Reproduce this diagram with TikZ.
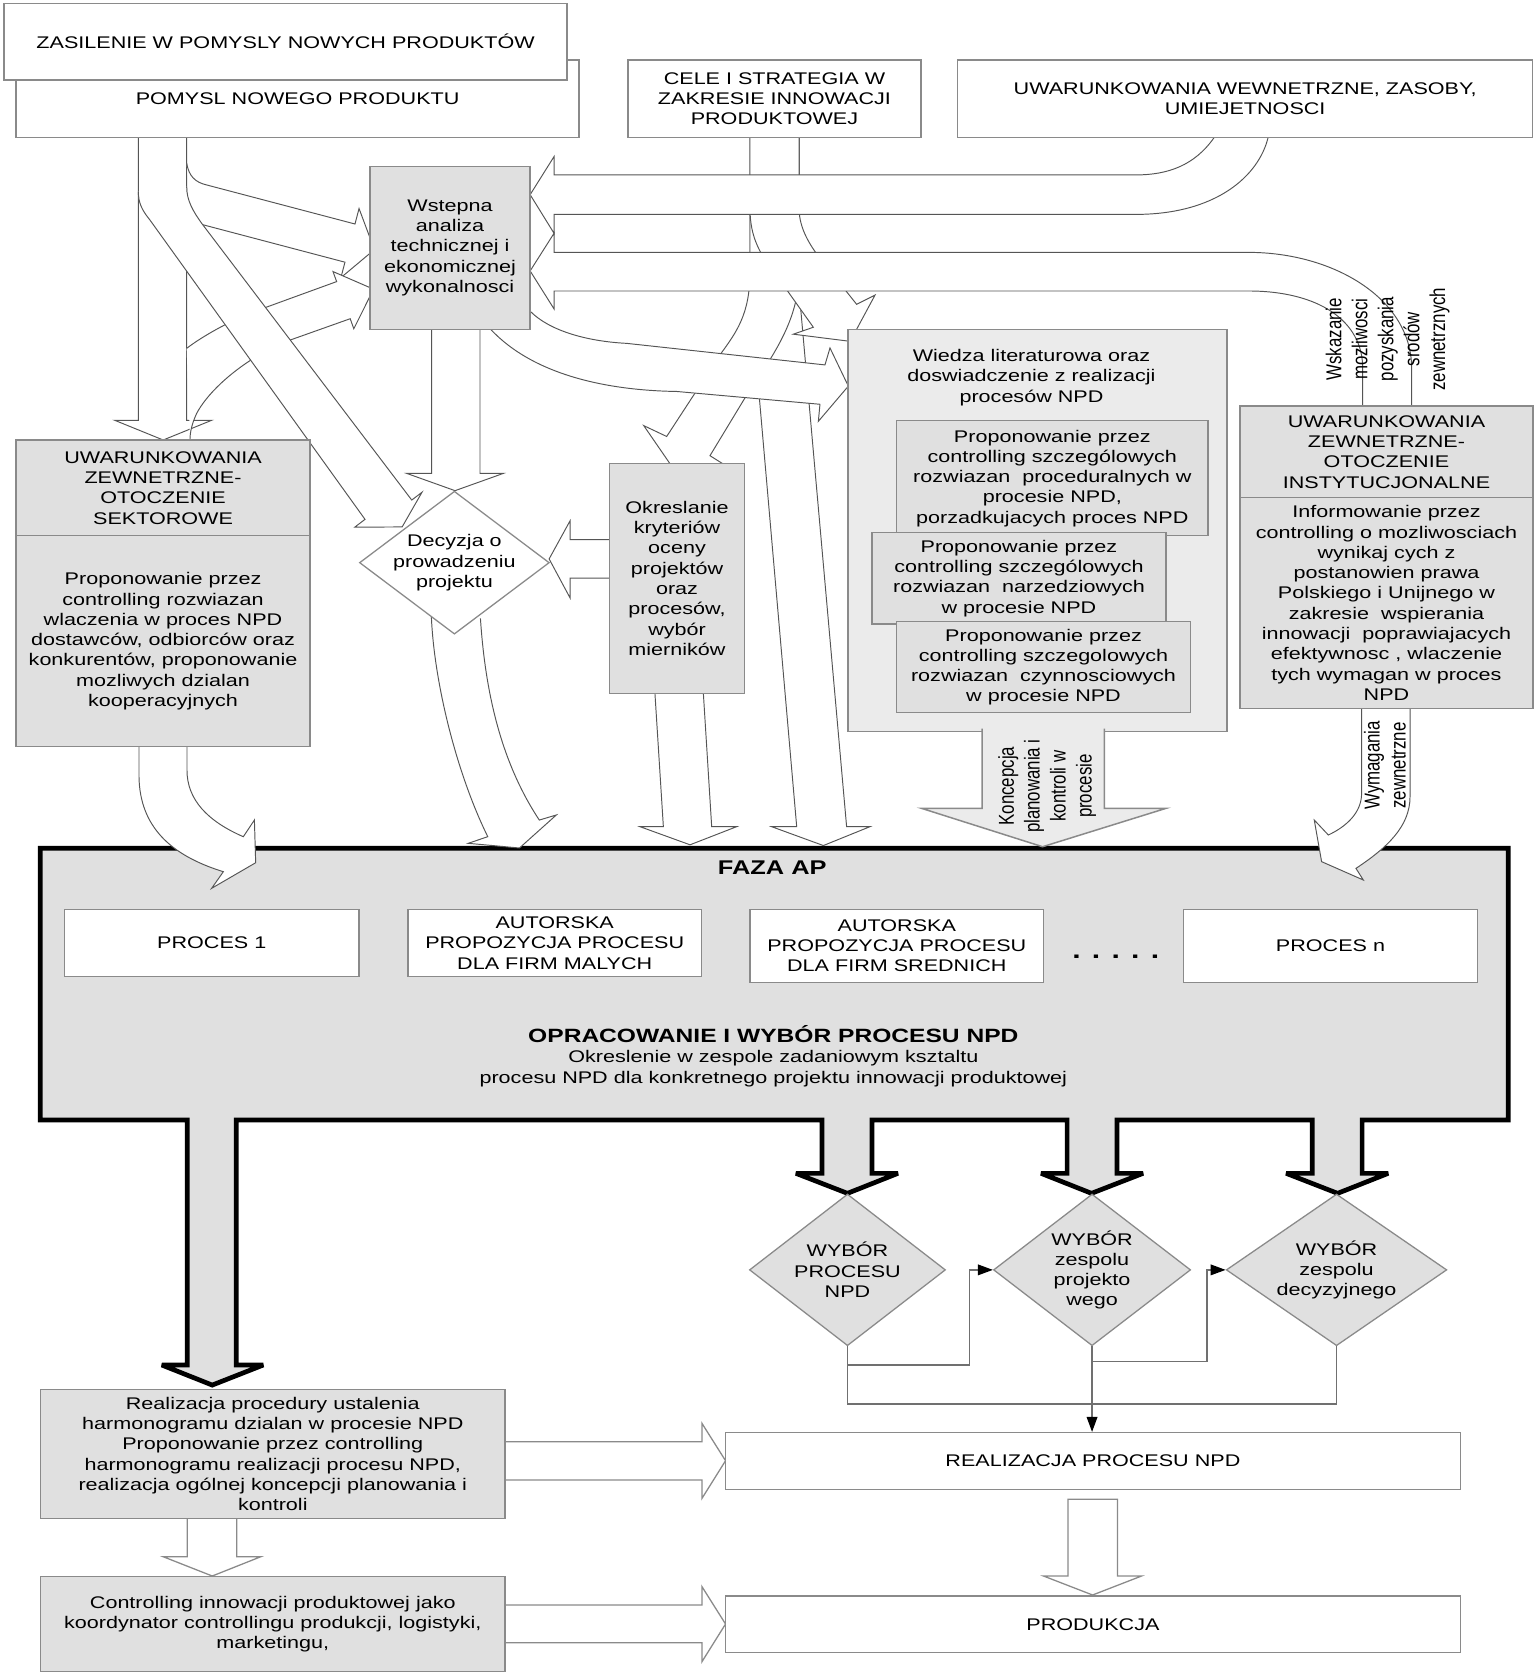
\documentclass[tikz,border=0pt]{standalone}
\usepackage{fontspec}
\setmainfont{Liberation Sans}[FakeStretch=1.28]
\newfontfamily\rotfont{Liberation Sans}
\usepackage{graphicx}
\usepackage{tikz}
\usetikzlibrary{calc}
\usetikzlibrary{arrows.meta}
\usetikzlibrary{shapes.geometric}
\definecolor{boxgray}{HTML}{E0E0E0}
\definecolor{lightbox}{HTML}{EBEBEB}
\definecolor{edgegray}{HTML}{8A8A8A}
\definecolor{arrowline}{HTML}{555555}
\definecolor{conngray}{HTML}{707070}
\tikzset{
	box/.style={draw=edgegray, line width=0.7pt, fill=boxgray, inner sep=0pt, align=center},
	whitebox/.style={box, fill=white},
	corners/.style n args={4}{minimum width={(#3-#1)*0.5pt}, minimum height={(#4-#2)*0.5pt}, at={({(#1+#3)/2},{(#2+#4)/2})}},
	diam/.style={diamond, draw=edgegray, line width=0.6pt, fill=boxgray, inner sep=0pt},
	hollow/.style={draw=arrowline, line width=0.45pt, fill=white, line join=miter},
	hollowlight/.style={draw=edgegray, line width=0.6pt, fill=white},
	conn/.style={draw=conngray, line width=0.6pt},
	flowtip/.style={-{Triangle[length=7pt,width=5pt,color=black]}}
}
\newcommand{\rottxt}[1]{\scalebox{1.28}[1]{\rotatebox{90}{\rotfont\fontsize{7.9}{9.5}\selectfont\begin{tabular}{@{}c@{}}#1\end{tabular}}}}

\begin{document}
\begin{tikzpicture}[x=0.5pt, y=-0.5pt, every node/.style={font=\fontsize{7.9}{9.5}\selectfont}]
	\useasboundingbox (0,0) rectangle (1440,1571.25);

	% faza AP with its outgoing arrows
	\filldraw[fill=boxgray, draw=black, line width=2.2pt, miter limit=4]
		(37.7,795.3) -- (1414,795.3) -- (1414,1050)
		-- (1277,1050) -- (1277,1100) -- (1301.4,1100) -- (1254,1118.75) -- (1205.8,1100) -- (1230.2,1100) -- (1230.2,1050)
		-- (1047.2,1050) -- (1047.2,1100) -- (1071.6,1100) -- (1023.3,1118.75) -- (976,1100) -- (1000.4,1100) -- (1000.4,1050)
		-- (817.4,1050) -- (817.4,1100) -- (841.8,1100) -- (794.5,1118.75) -- (746.2,1100) -- (770.6,1100) -- (770.6,1050)
		-- (221.5,1050) -- (221.5,1279.7) -- (246.8,1279.7) -- (199,1298.5) -- (151.7,1279.7) -- (175.6,1279.7) -- (175.6,1050)
		-- (37.7,1050) -- cycle;

	% block arrows from the idea
	\filldraw[hollow] (129.7,129) -- (129.7,394) -- (107.5,394) -- (153,412.5) -- (198.5,394) -- (175,394) -- (175,129);
	\filldraw[hollow] (175,153) .. controls (177,165) and (183,171) .. (193.8,173.4) -- (332.8,210) -- (336.6,195.5)
		-- (351,234) -- (319.6,260.3) -- (323.4,245.8) -- (180,208);
	\filldraw[hollow] (175,326.6) .. controls (190,315) and (220,298) .. (246.9,289) -- (315.6,264) -- (312.2,254.6)
		-- (350.2,271.1) -- (331.7,308.2) -- (328.3,298.8) -- (270.3,319.4)
		.. controls (235,333) and (198,362) .. (184.4,387.5) .. controls (180,397) and (178.1,405) .. (178.1,412.5);
	\filldraw[hollow] (129.7,179.7) .. controls (129.7,190) and (133,197) .. (140.6,206.3) -- (342.2,486.9) -- (332.6,494.2)
		-- (377,494) -- (395.6,461.5) -- (386,468.8) -- (189.1,209.4) .. controls (181,198) and (175,188) .. (175,175);

	% block arrows from the goals
	\filldraw[hollow] (703.1,129) -- (703.1,272) -- (746.9,775) -- (723.4,775) -- (771.9,792.7) -- (815.6,775)
		-- (793.7,775) -- (749.1,272) -- (749.1,129);
	\filldraw[hollow] (703.1,129) -- (703.1,255) .. controls (703.1,295) and (690,312) .. (675,332.6) -- (625,409.2)
		-- (603.5,399) -- (640,452) -- (684.2,438.9) -- (665.6,427.2)
		-- (700,370.4) .. controls (725,333) and (749.1,300) .. (749.1,255) -- (749.1,129);
	\filldraw[hollow] (703.1,129) -- (703.1,195) .. controls (703.1,215) and (708,228) .. (715,240) -- (762.5,306.8)
		-- (743.7,313.3) -- (797,320) -- (820.3,276.7) -- (803.1,285.3)
		-- (775,250) .. controls (760,232) and (749.1,215) .. (749.1,195) -- (749.1,129);

	% block arrows into the analysis
	\filldraw[hollow] (1138.2,129) .. controls (1120,155) and (1095,164) .. (1064.7,164) -- (519.4,164) -- (519.4,146.8)
		-- (497,182.5) -- (519.4,218.7) -- (519.4,201) -- (1064.7,201) .. controls (1140,201) and (1180,165) .. (1188.8,129);
	\filldraw[hollow] (1323.4,379.7) -- (1323.4,345) .. controls (1323.4,280) and (1250,236.6) .. (1170.4,236.6)
		-- (519.4,236.6) -- (519.4,218.7) -- (497,254) -- (519.4,289.6) -- (519.4,272.8)
		-- (1170.4,272.8) .. controls (1235,272.8) and (1277.5,300) .. (1277.5,345) -- (1277.5,379.7);
	\filldraw[hollow] (497.1,291.8) .. controls (515,310) and (550,320) .. (587.5,321.9) -- (773.4,342.1) -- (778.1,326.2)
		-- (795.3,362) -- (767.2,395) -- (768.7,379) -- (634.4,367) .. controls (570,366) and (500,352) .. (459.4,308.1);
	\filldraw[hollow] (404.7,308.7) -- (404.7,443.8) -- (381.3,443.8) -- (426.6,460) -- (471.9,443.8) -- (450,443.8) -- (450,308.7);

	% block arrows to the decision and to faza AP
	\filldraw[hollow] (571.3,505.9) -- (534.4,505.9) -- (534.4,488.3) -- (514.8,524) -- (534.4,560.5) -- (534.4,542) -- (571.3,542);
	\filldraw[hollow] (614,650) -- (621.9,775) -- (600,775) -- (646.9,792) -- (690.6,775) -- (667.2,775) -- (659.4,650);
	\filldraw[hollow] (404.4,578) .. controls (407,640) and (428,725) .. (457.3,784.4) -- (438.9,790.6) -- (487,795)
		-- (521.6,764) -- (505.6,768.8) .. controls (470,715) and (455,650) .. (450.4,579.7);
	\filldraw[hollow] (130.3,700) -- (130.3,728) .. controls (131,775) and (160,802) .. (209.4,817.2) -- (198.4,832.8)
		-- (239.7,808.8) -- (238.5,768.75) -- (228.1,784.4) .. controls (195,770) and (175.3,750) .. (175.3,722) -- (175.3,700);
	\filldraw[hollow] (1276.5,664) -- (1276.5,743.75) .. controls (1276.5,762) and (1262,775) .. (1245.3,782.8) -- (1232.1,768.75)
		-- (1239,807.8) -- (1278.1,825) -- (1271.2,814.1) .. controls (1300,795) and (1321.9,775) .. (1321.9,746.9) -- (1321.9,664);

	% bottom block arrows
	\filldraw[hollowlight] (473.4,1351.6) -- (658.1,1351.6) -- (658.1,1334.4) -- (680.2,1369.4) -- (658.1,1404.7) -- (658.1,1387.5) -- (473.4,1387.5);
	\filldraw[hollowlight] (473.4,1504.7) -- (658.1,1504.7) -- (658.1,1487.5) -- (680.2,1522.5) -- (658.1,1557.8) -- (658.1,1540) -- (473.4,1540);
	\filldraw[hollowlight] (175.6,1423.5) -- (175.6,1459.4) -- (153,1459.4) -- (199,1477.5) -- (244.5,1459.4) -- (222,1459.4) -- (222,1423.5);
	\filldraw[hollowlight] (1001.3,1405.6) -- (1001.3,1477.5) -- (978.3,1477.5) -- (1024.3,1495.3) -- (1070.2,1477.5) -- (1047.7,1477.5) -- (1047.7,1405.6) -- cycle;

	% top row
	\node[whitebox, corners={15.2}{56.25}{542.8}{129}] (pomysl) {POMYSL NOWEGO PRODUKTU};
	\node[whitebox, corners={3.7}{3.1}{531.7}{75}] (zasil) {ZASILENIE W POMYSLY NOWYCH PRODUKTÓW};
	\node[whitebox, corners={588.7}{56.25}{863.4}{129}] (cele) {CELE I STRATEGIA W\\ZAKRESIE INNOWACJI\\PRODUKTOWEJ};
	\node[whitebox, corners={897.8}{56.25}{1436.9}{129}] (uwew) {UWARUNKOWANIA WEWNETRZNE, ZASOBY,\\UMIEJETNOSCI};

	% middle boxes
	\node[box, corners={347}{155.9}{496.8}{308.75}] (wstepna) {Wstepna\\analiza\\technicznej i\\ekonomicznej\\wykonalnosci};
	\node[box, corners={15.2}{412.5}{290.5}{502.2}] (sekttop) {UWARUNKOWANIA\\ZEWNETRZNE-\\OTOCZENIE\\SEKTOROWE};
	\node[box, corners={15.2}{502.2}{290.5}{700}] (sektbot) {Proponowanie przez\\controlling rozwiazan\\wlaczenia w proces NPD\\dostawców, odbiorców oraz\\konkurentów, proponowanie\\mozliwych dzialan\\kooperacyjnych};
	\node[diam, fill=white, minimum width=89pt, minimum height=67pt,
		label={[name=decyzjatxt, align=center]center:Decyzja o\\prowadzeniu\\projektu}] (decyzja) at (426,527.5) {};
	\node[box, corners={571.3}{434.4}{698.1}{650}] (okresl) {Okreslanie\\kryteriów\\oceny\\projektów\\oraz\\procesów,\\wybór\\mierników};

	% knowledge box and its arrow
	\node[box, fill=lightbox, corners={794.9}{308.75}{1150.2}{686}] (wiedza) {};
	\filldraw[fill=lightbox, draw=edgegray, line width=0.7pt] (920.8,683) -- (920.8,757.8) -- (863.9,757.8) -- (977.4,793.8)
		-- (1093.2,757.8) -- (1035.3,757.8) -- (1035.3,683);
	\node[align=center] (wiedzatxt) at (967,354) {Wiedza literaturowa oraz\\doswiadczenie z realizacji\\procesów NPD};
	\node[box, corners={840.4}{394.4}{1132.7}{502.2}] (prop1) {Proponowanie przez\\controlling szczególowych\\rozwiazan\ \ proceduralnych w\\procesie NPD,\\porzadkujacych proces NPD};
	\node[box, corners={817.4}{499.4}{1093.2}{585}] (prop2) {Proponowanie przez\\controlling szczególowych\\rozwiazan\ \ narzedziowych\\w procesie NPD};
	\node[box, corners={840.4}{582.8}{1116.2}{668.1}] (prop3) {Proponowanie przez\\controlling szczegolowych\\rozwiazan\ \ czynnosciowych\\w procesie NPD};
	\node[inner sep=0pt] (konc) at (982,737) {\rottxt{Koncepcja\\planowania i\\kontroli w\\procesie}};

	% institutional surroundings
	\node[box, corners={1162.6}{380.6}{1437}{466.6}] (insttop) {UWARUNKOWANIA\\ZEWNETRZNE-\\OTOCZENIE\\INSTYTUCJONALNE};
	\node[box, corners={1162.6}{466.6}{1437}{664}] (instbot) {Informowanie przez\\controlling o mozliwosciach\\wynikaj cych z\\postanowien prawa\\Polskiego i Unijnego w\\zakresie\ \ wspierania\\innowacji\ \ poprawiajacych\\efektywnosc , wlaczenie\\tych wymagan w proces\\NPD};
	\node[inner sep=0pt] (wskaz) at (1301.4,318) {\rottxt{Wskazanie\\mozliwosci\\pozyskania\\srodów\\zewnetrznych}};
	\node[inner sep=0pt] (wymag) at (1300.7,717.5) {\rottxt{Wymagania\\zewnetrzne}};

	% inside faza AP
	\node[font=\fontsize{9.3}{11}\selectfont\bfseries] (fazatxt) at (724,813) {FAZA AP};
	\node[whitebox, corners={60.7}{852.5}{336.4}{915.6}] (proc1) {PROCES 1};
	\node[whitebox, corners={382.4}{852.5}{657.7}{915.6}] (procm) {AUTORSKA\\PROPOZYCJA PROCESU\\DLA FIRM MALYCH};
	\node[whitebox, corners={703.2}{852.5}{978.3}{921}] (procs) {AUTORSKA\\PROPOZYCJA PROCESU\\DLA FIRM SREDNICH};
	\node[whitebox, corners={1109.7}{852.5}{1385}{921}] (procn) {PROCES n};
	\node[anchor=base, font=\fontsize{11}{11}\selectfont\bfseries] (dots) at (1046,899) {.\hskip5.3pt.\hskip5.3pt.\hskip5.3pt.\hskip5.3pt.};
	\node[align=center] (opis) at (725,990) {{\fontsize{9}{11}\selectfont\bfseries OPRACOWANIE I WYBÓR PROCESU NPD}\\Okreslenie w zespole zadaniowym ksztaltu\\procesu NPD dla konkretnego projektu innowacji produktowej};

	% choices
	\node[diam, minimum width=91.9pt, minimum height=71.1pt,
		label={[name=wyb1txt, align=center]center:WYBÓR\\PROCESU\\NPD}] (wyb1) at (794.5,1190.5) {};
	\node[diam, minimum width=92.4pt, minimum height=71.1pt,
		label={[name=wyb2txt, align=center]center:WYBÓR\\zespolu\\projekto\\wego}] (wyb2) at (1023.8,1190.5) {};
	\node[diam, minimum width=103.4pt, minimum height=71.1pt,
		label={[name=wyb3txt, align=center]center:WYBÓR\\zespolu\\decyzyjnego}] (wyb3) at (1253,1190.5) {};

	% bottom boxes
	\node[whitebox, corners={680.2}{1343.1}{1369}{1396.3}] (real) {REALIZACJA PROCESU NPD};
	\node[whitebox, corners={680.2}{1496}{1369}{1549.4}] (prod) {PRODUKCJA};
	\node[box, corners={38.1}{1302.5}{473.4}{1423.5}] (realproc) {Realizacja procedury ustalenia\\harmonogramu dzialan w procesie NPD\\Proponowanie przez controlling\\harmonogramu realizacji procesu NPD,\\realizacja ogólnej koncepcji planowania i\\kontroli};
	\node[box, corners={38.1}{1478.1}{473.4}{1567.2}] (contr) {Controlling innowacji produktowej jako\\koordynator controllingu produkcji, logistyki,\\marketingu,};

	% thin connectors
	\draw[conn] (wyb1.south) -- ++(0,54) -| (wyb3.south);
	\draw[conn, flowtip] (wyb1.south) -- ++(0,17.5) -| ($(wyb2.west)+(-21.6,0)$) -- (wyb2.west);
	\draw[conn, flowtip] ($(wyb2.south)+(0,14)$) -| ($(wyb3.west)+(-17.4,0)$) -- (wyb3.west);
	\draw[conn, flowtip] (wyb2.south) -- (wyb2.south |- real.north);
\end{tikzpicture}
\end{document}
